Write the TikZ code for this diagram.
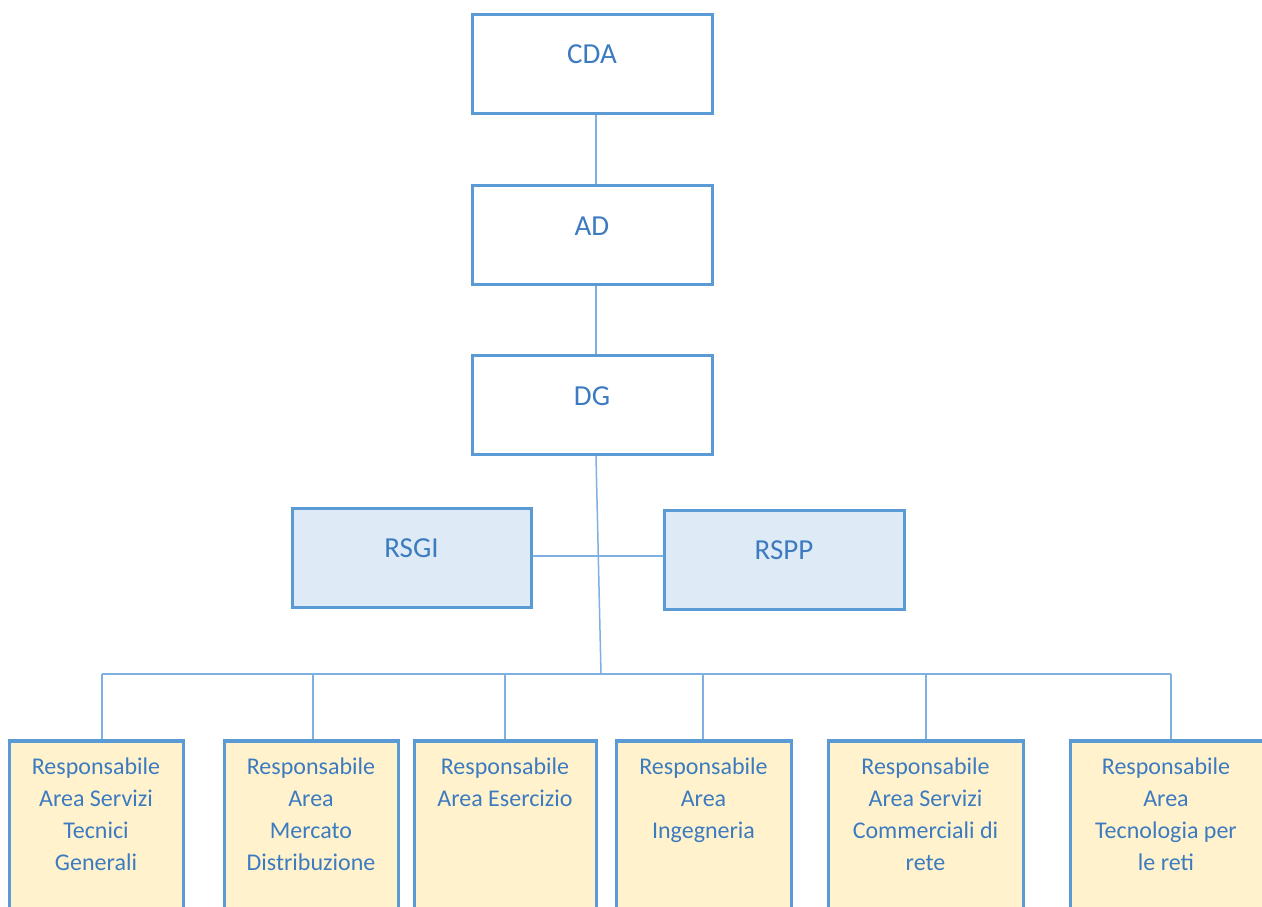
\documentclass[tikz,border=0pt]{standalone}
\usepackage{fontspec}
\setmainfont{Carlito}
\definecolor{bordc}{HTML}{5B9BD5}
\definecolor{linec}{HTML}{7FB0E2}
\definecolor{txtc}{HTML}{3D7BC0}
\definecolor{bluefill}{HTML}{DEEBF7}
\definecolor{goldfill}{HTML}{FFF2CC}
\begin{document}
\begin{tikzpicture}[x=1pt,y=-1pt,
  topbox/.style={draw=bordc, line width=3pt, fill=white, minimum width=240pt, minimum height=99pt,
    inner sep=0pt, text=txtc, font=\fontsize{29}{34}\selectfont, text height=20pt, text depth=20pt},
  sidebox/.style={topbox, fill=bluefill, minimum width=239pt},
  bottombox/.style={draw=bordc, line width=3pt, fill=goldfill, minimum height=200pt, anchor=north, inner sep=0pt},
  btxt/.style={anchor=north, align=center, inner sep=0pt, text=txtc, font=\fontsize{24}{32}\selectfont},
  conn/.style={draw=linec, line width=1.5pt}]
\useasboundingbox (0,0) rectangle (1262,906);
\clip (0,0) rectangle (1262,906);
\fill[white] (0,0) rectangle (1262,906);

% top chain
\node[topbox] (cda) at (592,63.5) {CDA};
\node[topbox] (ad) at (592,235) {AD};
\node[topbox] (dg) at (592,405) {DG};
\node[sidebox] (rsgi) at (411.5,557.5) {RSGI};
\node[sidebox, minimum width=240pt] (rspp) at (784,559.5) {RSPP};

% bottom boxes
\node[bottombox, minimum width=174pt] (b1) at (96,740) {};
\node[bottombox, minimum width=174pt] (b2) at (311,740) {};
\node[bottombox, minimum width=182pt] (b3) at (505,740) {};
\node[bottombox, minimum width=175pt] (b4) at (703.5,740) {};
\node[bottombox, minimum width=195pt] (b5) at (925.5,740) {};
\node[bottombox, minimum width=240pt] (b6) at (1190,740) {};

\node[btxt] (t1) at ([yshift=-18pt]b1.north) {Responsabile\\Area Servizi\\Tecnici\\Generali};
\node[btxt] (t2) at ([yshift=-18pt]b2.north) {Responsabile\\Area\\Mercato\\Distribuzione};
\node[btxt] (t3) at ([yshift=-18pt]b3.north) {Responsabile\\Area Esercizio};
\node[btxt] (t4) at ([yshift=-18pt]b4.north) {Responsabile\\Area\\Ingegneria};
\node[btxt] (t5) at ([yshift=-18pt]b5.north) {Responsabile\\Area Servizi\\Commerciali di\\rete};
\node[btxt] (t6) at ([xshift=-24pt,yshift=-18pt]b6.north) {Responsabile\\Area\\Tecnologia per\\le reti};

% helper coordinates
\coordinate (tx) at (596,0);
\coordinate (bus) at (601,674);
\coordinate (hy) at (0,556);
\coordinate (bl) at (102,674);
\coordinate (br) at (1171,674);

% connectors
\draw[conn] (cda.south -| tx) -- (ad.north -| tx);
\draw[conn] (ad.south -| tx) -- (dg.north -| tx);
\draw[conn] (dg.south -| tx) -- (bus);
\draw[conn] (rsgi.east |- hy) -- (rspp.west |- hy);
\draw[conn] (bl) -- (br);
\draw[conn] (bl) -- (bl |- b1.north);
\draw[conn] (313,674) -- (b2.north -| 313,0);
\draw[conn] (505,674) -- (b3.north);
\draw[conn] (703,674) -- (b4.north -| 703,0);
\draw[conn] (926,674) -- (b5.north -| 926,0);
\draw[conn] (br) -- (br |- b6.north);

% redraw box borders over connector ends
\foreach \n in {b1,b2,b3,b4,b5,b6}{
  \draw[bordc, line width=3pt] (\n.north west) -- (\n.north east);
}
\end{tikzpicture}
\end{document}
